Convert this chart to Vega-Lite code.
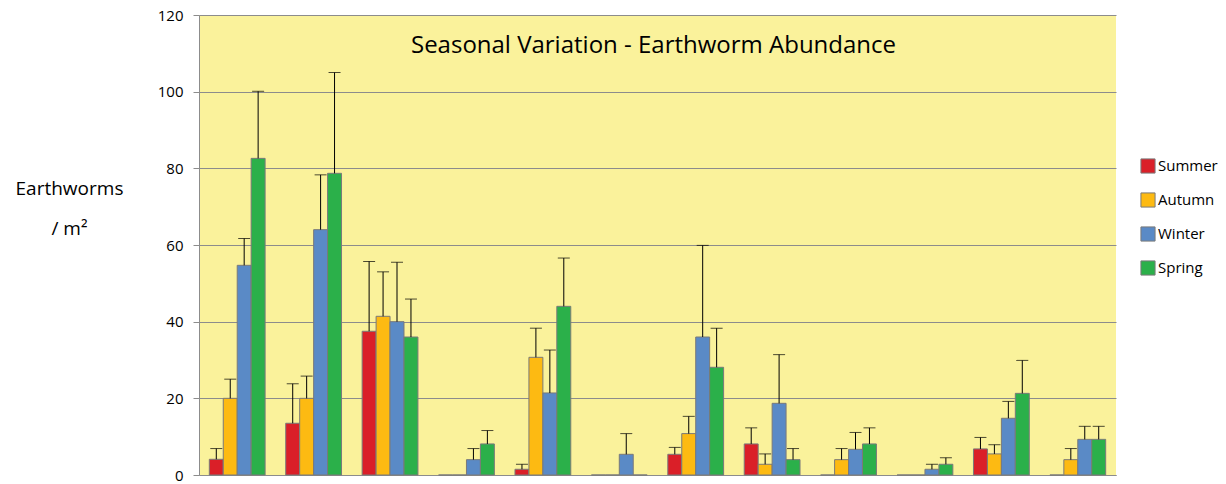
{
  "$schema": "https://vega.github.io/schema/vega-lite/v6.json",
  "width": 917,
  "height": 460,
  "autosize": "none",
  "padding": {"left": 199, "top": 15, "right": 110, "bottom": 9},
  "background": "white",
  "config": {
    "view": {"fill": "#FAF29B", "stroke": null},
    "font": "Open Sans"
  },
  "title": {
    "text": "Seasonal Variation  - Earthworm Abundance",
    "anchor": "middle",
    "frame": "group",
    "fontSize": 24,
    "fontWeight": "normal",
    "color": "black",
    "font": "Open Sans",
    "baseline": "top",
    "offset": -50,
    "dx": -4
  },
  "data": {
    "values": [
      {"group": 1, "season": "Summer", "value": 4.1, "err": 6.9},
      {"group": 1, "season": "Autumn", "value": 20, "err": 25},
      {"group": 1, "season": "Winter", "value": 54.7, "err": 61.7},
      {"group": 1, "season": "Spring", "value": 82.6, "err": 100.1},
      {"group": 2, "season": "Summer", "value": 13.5, "err": 23.8},
      {"group": 2, "season": "Autumn", "value": 20, "err": 25.8},
      {"group": 2, "season": "Winter", "value": 64, "err": 78.3},
      {"group": 2, "season": "Spring", "value": 78.7, "err": 105},
      {"group": 3, "season": "Summer", "value": 37.5, "err": 55.7},
      {"group": 3, "season": "Autumn", "value": 41.4, "err": 53},
      {"group": 3, "season": "Winter", "value": 40, "err": 55.5},
      {"group": 3, "season": "Spring", "value": 36, "err": 45.9},
      {"group": 4, "season": "Summer", "value": 0, "err": null},
      {"group": 4, "season": "Autumn", "value": 0, "err": null},
      {"group": 4, "season": "Winter", "value": 4, "err": 6.9},
      {"group": 4, "season": "Spring", "value": 8.1, "err": 11.6},
      {"group": 5, "season": "Summer", "value": 1.5, "err": 2.8},
      {"group": 5, "season": "Autumn", "value": 30.7, "err": 38.3},
      {"group": 5, "season": "Winter", "value": 21.4, "err": 32.6},
      {"group": 5, "season": "Spring", "value": 44, "err": 56.6},
      {"group": 6, "season": "Summer", "value": 0, "err": null},
      {"group": 6, "season": "Autumn", "value": 0, "err": null},
      {"group": 6, "season": "Winter", "value": 5.4, "err": 10.8},
      {"group": 6, "season": "Spring", "value": 0, "err": null},
      {"group": 7, "season": "Summer", "value": 5.4, "err": 7.2},
      {"group": 7, "season": "Autumn", "value": 10.8, "err": 15.3},
      {"group": 7, "season": "Winter", "value": 36, "err": 59.9},
      {"group": 7, "season": "Spring", "value": 28.1, "err": 38.3},
      {"group": 8, "season": "Summer", "value": 8.1, "err": 12.3},
      {"group": 8, "season": "Autumn", "value": 2.8, "err": 5.5},
      {"group": 8, "season": "Winter", "value": 18.7, "err": 31.4},
      {"group": 8, "season": "Spring", "value": 4, "err": 6.9},
      {"group": 9, "season": "Summer", "value": 0, "err": null},
      {"group": 9, "season": "Autumn", "value": 4, "err": 6.9},
      {"group": 9, "season": "Winter", "value": 6.7, "err": 11.1},
      {"group": 9, "season": "Spring", "value": 8.1, "err": 12.3},
      {"group": 10, "season": "Summer", "value": 0, "err": null},
      {"group": 10, "season": "Autumn", "value": 0, "err": null},
      {"group": 10, "season": "Winter", "value": 1.5, "err": 2.8},
      {"group": 10, "season": "Spring", "value": 2.8, "err": 4.5},
      {"group": 11, "season": "Summer", "value": 6.8, "err": 9.8},
      {"group": 11, "season": "Autumn", "value": 5.5, "err": 7.9},
      {"group": 11, "season": "Winter", "value": 14.8, "err": 19.2},
      {"group": 11, "season": "Spring", "value": 21.3, "err": 29.9},
      {"group": 12, "season": "Summer", "value": 0, "err": null},
      {"group": 12, "season": "Autumn", "value": 4, "err": 6.9},
      {"group": 12, "season": "Winter", "value": 9.3, "err": 12.7},
      {"group": 12, "season": "Spring", "value": 9.3, "err": 12.7}
    ]
  },
  "encoding": {
    "x": {
      "field": "group",
      "type": "ordinal",
      "scale": {"paddingInner": 0.27, "paddingOuter": 0.135},
      "axis": {"labels": false, "ticks": false, "title": null, "domain": true, "domainColor": "#8c8c8c"}
    },
    "xOffset": {
      "field": "season",
      "type": "nominal",
      "sort": ["Summer", "Autumn", "Winter", "Spring"],
      "scale": {"paddingInner": 0, "paddingOuter": 0}
    }
  },
  "layer": [
    {
      "mark": {"type": "bar", "stroke": "#7a7a7a", "strokeWidth": 1},
      "encoding": {
        "y": {
          "field": "value",
          "type": "quantitative",
          "scale": {"domain": [0, 120], "nice": false},
          "axis": {
            "values": [0, 20, 40, 60, 80, 100, 120],
            "title": ["Earthworms", "/ m²"],
            "titleAngle": 0,
            "titleX": -130,
            "titleY": 173,
            "titleAlign": "center",
            "titleBaseline": "middle",
            "titleFontSize": 19,
            "titleFontWeight": "normal",
            "titleColor": "black",
            "titleLineHeight": 40,
            "labelFontSize": 15,
            "labelColor": "black",
            "labelPadding": 10,
            "tickColor": "#8c8c8c",
            "tickSize": 6,
            "domainColor": "#8c8c8c",
            "gridColor": "#8c8c8c",
            "gridOpacity": 1,
            "grid": true
          }
        },
        "color": {
          "field": "season",
          "type": "nominal",
          "scale": {
            "domain": ["Summer", "Autumn", "Winter", "Spring"],
            "range": ["#DA1F28", "#FDBA12", "#5A8AC6", "#2BB04A"]
          },
          "legend": {
            "title": null,
            "orient": "none",
            "legendX": 941,
            "legendY": 143,
            "symbolType": "square",
            "symbolSize": 200,
            "symbolStrokeColor": "#7a7a7a",
            "symbolStrokeWidth": 1,
            "labelFontSize": 15,
            "labelColor": "black",
            "labelOffset": 2,
            "rowPadding": 14
          }
        }
      }
    },
    {
      "transform": [{"filter": "datum.err != null"}],
      "mark": {"type": "rule", "color": "black", "strokeWidth": 1},
      "encoding": {
        "y": {"field": "value", "type": "quantitative"},
        "y2": {"field": "err"}
      }
    },
    {
      "transform": [{"filter": "datum.err != null"}],
      "mark": {"type": "tick", "color": "black", "thickness": 1, "size": 12, "orient": "horizontal"},
      "encoding": {
        "y": {"field": "err", "type": "quantitative"}
      }
    }
  ]
}
